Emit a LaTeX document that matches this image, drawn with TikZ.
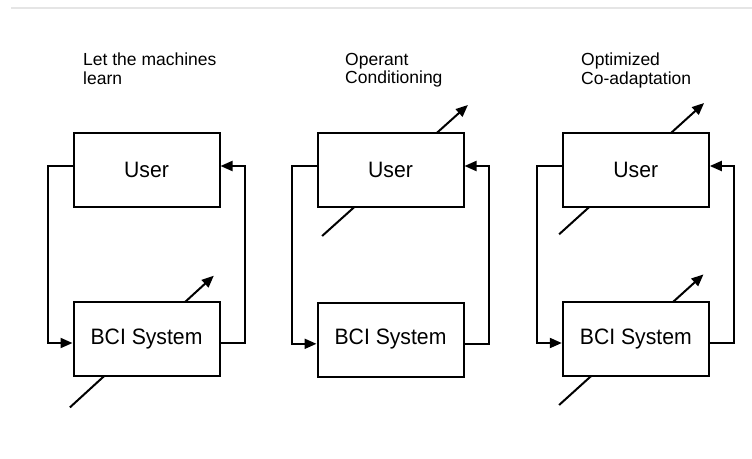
\documentclass[tikz,border=0pt]{standalone}
\usepackage{fontspec}
\setmainfont{Liberation Sans}
\newfontfamily\boxfont[FakeStretch=0.95]{Liberation Sans}
\usetikzlibrary{arrows.meta,calc,backgrounds}

\tikzset{
  blockbox/.style={draw, fill=white, line width=2pt, minimum width=146pt,
    minimum height=74pt, inner sep=0pt, font=\boxfont\fontsize{22.3}{24}\selectfont},
  heading/.style={anchor=north west, inner sep=0pt, align=left,
    font=\fontsize{17.5}{18.5}\selectfont},
  loopline/.style={line width=2pt, -{Triangle[length=12pt,width=10pt]}},
  adjust/.style={line width=2pt, -{Triangle[length=12pt,width=10pt]}}
}

\begin{document}
\begin{tikzpicture}[x=1pt, y=-1pt]
  \useasboundingbox (0,0) rectangle (752,458);

  % thin rule along the top
  \draw[line width=1.5pt, color=black!10] (11,8) -- (752,8);

  % headings
  \node[heading] (t1) at (83,53)  {Let the machines\\learn};
  \node[heading] (t2) at (345,53) {Operant\\Conditioning};
  \node[heading] (t3) at (581,53) {Optimized\\Co-adaptation};

  % blocks
  \node[blockbox] (u1) at (146.5,169.7) {User};
  \node[blockbox] (b1) at (146.5,338.7) {BCI System};
  \node[blockbox] (u2) at (390.5,169.7) {User};
  \node[blockbox] (b2) at (390.5,339.5) {BCI System};
  \node[blockbox] (u3) at (635.8,169.7) {User};
  \node[blockbox] (b3) at (635.8,338.7) {BCI System};

  % feedback loops
  \foreach \u/\b in {u1/b1, u2/b2, u3/b3} {
    \draw[loopline] ([yshift=3.7pt]\u.west) -- ++(-24.5,0) |- ([yshift=-4.3pt]\b.west);
    \draw[loopline] ([yshift=-4.3pt]\b.east) -- ++(24.5,0) |- ([yshift=3.7pt]\u.east);
  }

  % adaptation arrows, passing behind the blocks
  \begin{pgfonlayer}{background}
    \draw[adjust] ($(b1.south west)+(-2.6,30.7)$) -- ($(b1.north east)+(-6.7,-25)$);
    \draw[adjust] ($(u2.south west)+(5.6,28.3)$) -- ($(u2.north east)+(3.4,-26.7)$);
    \draw[adjust] ($(u3.south west)+(-2.7,26.6)$) -- ($(u3.north east)+(-5.7,-28.7)$);
    \draw[adjust] ($(b3.south west)+(-2.7,28.3)$) -- ($(b3.north east)+(-6.3,-26.3)$);
  \end{pgfonlayer}
\end{tikzpicture}
\end{document}
